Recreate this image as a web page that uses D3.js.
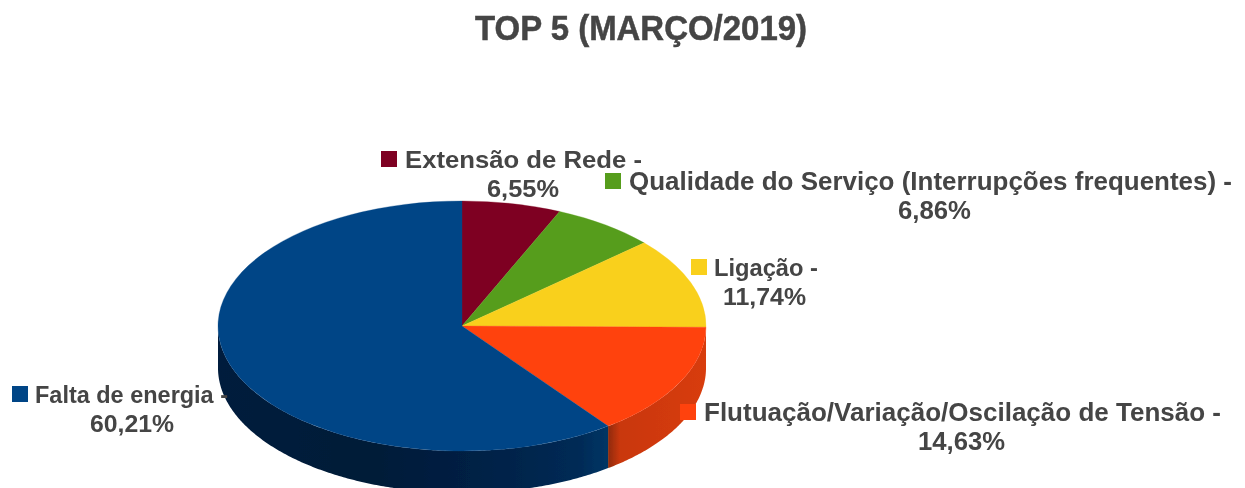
<!DOCTYPE html>
<meta charset="utf-8">
<style>
body { margin: 0; background: #fff; overflow: hidden; }
svg { display: block; }
text { font-family: "Liberation Sans", sans-serif; font-weight: bold; fill: #444; }
.title { font-size: 35px; stroke: #444; stroke-width: 0.5px; }
</style>
<script src="https://d3js.org/d3.v7.min.js"></script>
<body>
<svg id="chart" width="1245" height="488"></svg>
<script>
var titleText = "TOP 5 (MARÇO/2019)";
var categories = ["Extensão de Rede", "Qualidade do Serviço (Interrupções frequentes)", "Ligação", "Flutuação/Variação/Oscilação de Tensão", "Falta de energia"];
var values = [6.55, 6.86, 11.74, 14.63, 60.21];
var valueLabels = ["6,55%", "6,86%", "11,74%", "14,63%", "60,21%"];
var colors = ["#7e0021", "#579d1c", "#f9d01f", "#ff420e", "#004586"];

// legend spot for each slice: square left edge, first baseline, text left, centre of the value line,
// font size and the widths the two text lines take up in the picture
var labelPos = [
  {sq: 381, y: 168, tx: 405, cx: 523, fs: 24, w: 237, vw: 72},
  {sq: 605, y: 190, tx: 629, cx: 934.5, fs: 25, w: 603, vw: 73},
  {sq: 691, y: 276, tx: 714, cx: 764.5, fs: 24, w: 104, vw: 83},
  {sq: 680, y: 421, tx: 704, cx: 961.5, fs: 25, w: 517, vw: 87},
  {sq: 12, y: 403, tx: 35, cx: 132, fs: 24, w: 193, vw: 84}
];

var width = 1245, height = 488;
var cx = 462, cy = 326, rx = 244, ry = 125, depth = 42;

var svg = d3.select("#chart");
var defs = svg.append("defs");

defs.append("filter").attr("id", "soft")
  .append("feGaussianBlur").attr("stdDeviation", 0.65);

var root = svg.append("g").attr("filter", "url(#soft)");

var pie = d3.pie().sort(null).value(function(d) { return d; });
var slices = pie(values);

var arc = d3.arc().innerRadius(0).outerRadius(rx);

// side wall, only the front half of the ellipse shows
var side = root.append("g");
var wall = d3.area()
  .x(function(a) { return cx + rx * Math.sin(a); })
  .y0(function(a) { return cy - ry * Math.cos(a); })
  .y1(function(a) { return cy - ry * Math.cos(a) + depth; });

slices.forEach(function(s, i) {
  var a0 = Math.max(s.startAngle, Math.PI / 2);
  var a1 = Math.min(s.endAngle, Math.PI * 1.5);
  if (a1 <= a0) return;

  var id = "side" + i;
  var grad = defs.append("linearGradient").attr("id", id)
    .attr("gradientUnits", "userSpaceOnUse")
    .attr("x1", cx + rx * Math.sin(a0)).attr("x2", cx + rx * Math.sin(a1))
    .attr("y1", 0).attr("y2", 0);

  if (i === 3) {
    grad.append("stop").attr("offset", 0).attr("stop-color", "#d83c0c");
    grad.append("stop").attr("offset", 0.88).attr("stop-color", "#c9370a");
    grad.append("stop").attr("offset", 1).attr("stop-color", "#8f2a08");
  } else {
    grad.append("stop").attr("offset", 0).attr("stop-color", "#003565");
    grad.append("stop").attr("offset", 0.08).attr("stop-color", "#002a55");
    grad.append("stop").attr("offset", 0.35).attr("stop-color", "#002044");
    grad.append("stop").attr("offset", 0.6).attr("stop-color", "#001a38");
    grad.append("stop").attr("offset", 1).attr("stop-color", "#001c3c");
  }

  side.append("path")
    .attr("d", wall(d3.range(a0, a1, 0.01).concat([a1])))
    .attr("fill", "url(#" + id + ")");
});

// top face
root.append("g")
  .attr("transform", "translate(" + cx + "," + cy + ") scale(1," + (ry / rx) + ")")
  .selectAll("path")
  .data(slices)
  .enter().append("path")
    .attr("d", arc)
    .attr("fill", function(d, i) { return colors[i]; })
    .attr("stroke", function(d, i) { return colors[i]; })
    .attr("stroke-width", 0.4);

root.append("text")
  .attr("class", "title")
  .attr("x", 475)
  .attr("y", 40)
  .attr("textLength", 332)
  .attr("lengthAdjust", "spacingAndGlyphs")
  .text(titleText);

// labels
var labels = root.append("g").selectAll("g")
  .data(categories)
  .enter().append("g");

labels.append("rect")
  .attr("x", function(d, i) { return labelPos[i].sq; })
  .attr("y", function(d, i) { return labelPos[i].y - 17; })
  .attr("width", 16)
  .attr("height", 16)
  .attr("fill", function(d, i) { return colors[i]; });

labels.append("text")
  .attr("x", function(d, i) { return labelPos[i].tx; })
  .attr("y", function(d, i) { return labelPos[i].y; })
  .attr("font-size", function(d, i) { return labelPos[i].fs; })
  .attr("textLength", function(d, i) { return labelPos[i].w; })
  .attr("lengthAdjust", "spacingAndGlyphs")
  .text(function(d) { return d + " -"; });

labels.append("text")
  .attr("x", function(d, i) { return labelPos[i].cx - labelPos[i].vw / 2; })
  .attr("y", function(d, i) { return labelPos[i].y + 29; })
  .attr("font-size", function(d, i) { return labelPos[i].fs; })
  .attr("textLength", function(d, i) { return labelPos[i].vw; })
  .attr("lengthAdjust", "spacingAndGlyphs")
  .text(function(d, i) { return valueLabels[i]; });
</script>
</body>
